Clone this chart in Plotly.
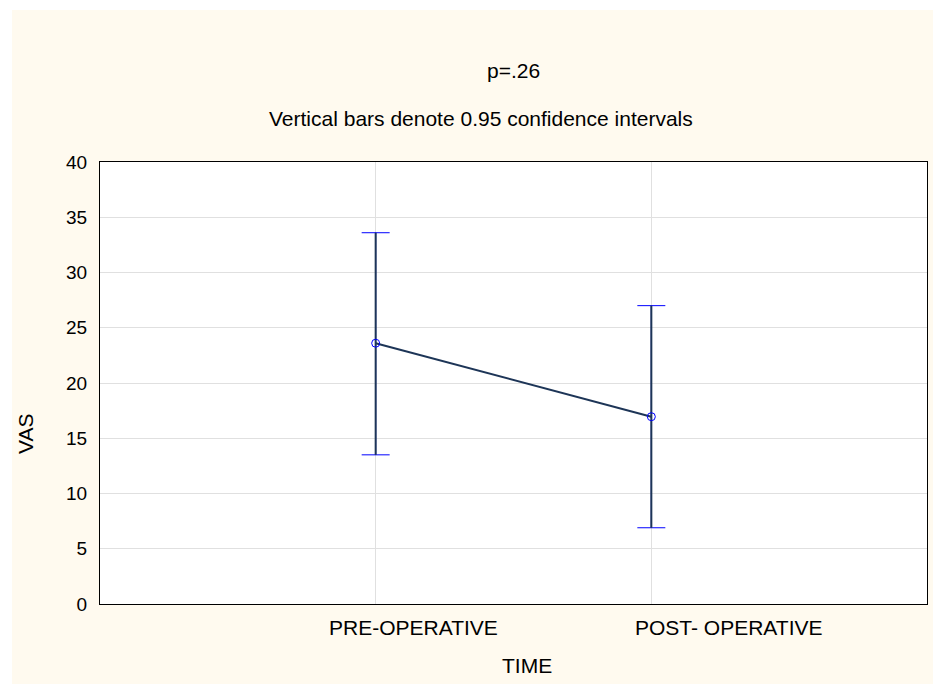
import plotly.graph_objects as go

categories = ["PRE-OPERATIVE", "POST- OPERATIVE"]
means = [23.6, 16.95]
ci_upper = [33.6, 27.0]
ci_lower = [13.5, 6.9]
y_ticks = [0, 5, 10, 15, 20, 25, 30, 35, 40]

xs = list(range(len(categories)))
err_plus = [u - m for u, m in zip(ci_upper, means)]
err_minus = [m - l for m, l in zip(means, ci_lower)]

FONT = "Liberation Sans, Arial, sans-serif"
NAVY = "#1d3557"
BLUE = "#0000ff"
TS = 21

fig = go.Figure()
# caps (blue)
fig.add_trace(go.Scatter(
    x=xs, y=means, mode="markers", marker=dict(size=0.1, color="rgba(0,0,0,0)"),
    error_y=dict(type="data", symmetric=False, array=err_plus, arrayminus=err_minus,
                 color=BLUE, thickness=1, width=14),
    hoverinfo="skip", showlegend=False))
# stems (navy)
fig.add_trace(go.Scatter(
    x=xs, y=means, mode="markers", marker=dict(size=0.1, color="rgba(0,0,0,0)"),
    error_y=dict(type="data", symmetric=False, array=err_plus, arrayminus=err_minus,
                 color=NAVY, thickness=2, width=0),
    hoverinfo="skip", showlegend=False))
# mean line + markers
fig.add_trace(go.Scatter(
    x=xs, y=means, mode="lines+markers",
    line=dict(color=NAVY, width=2),
    marker=dict(symbol="circle-open", size=8, color=BLUE, line=dict(width=1, color=BLUE)),
    showlegend=False))

annotations = [
    dict(text="p=.26", xref="paper", yref="paper", x=(513 - 100) / 827, y=(604 - 70) / 442,
         showarrow=False, font=dict(size=TS, color="black", family=FONT), xanchor="center", yanchor="middle"),
    dict(text="Vertical bars denote 0.95 confidence intervals", xref="paper", yref="paper",
         x=(267 - 100) / 827, y=(604 - 119) / 442, showarrow=False,
         font=dict(size=TS, color="black", family=FONT), xanchor="left", yanchor="middle"),
    dict(text="TIME", xref="paper", yref="paper", x=(500 - 100) / 827, y=(604 - 665) / 442,
         showarrow=False, font=dict(size=TS, color="black", family=FONT), xanchor="left", yanchor="middle"),
    dict(text="VAS", xref="paper", yref="paper", x=(25 - 100) / 827, y=(604 - 434) / 442,
         showarrow=False, textangle=-90, font=dict(size=TS, color="black", family=FONT),
         xanchor="center", yanchor="middle"),
]
label_shift = [-49, -18]
for i, c in enumerate(categories):
    annotations.append(dict(text=c, xref="x", yref="paper", x=xs[i], y=(604 - 627) / 442,
                            xshift=label_shift[i], showarrow=False, xanchor="left", yanchor="middle",
                            font=dict(size=TS, color="black", family=FONT)))

fig.update_layout(
    width=933, height=684,
    margin=dict(l=100, r=6, t=162, b=80),
    paper_bgcolor="#fffaef",
    plot_bgcolor="white",
    font=dict(family=FONT, size=19, color="black"),
    annotations=annotations,
    shapes=[
        dict(type="rect", xref="paper", yref="paper", x0=-0.2, x1=1.2,
             y0=(604 - 10) / 442, y1=1.5, fillcolor="white", line=dict(width=0), layer="below"),
        dict(type="rect", xref="paper", yref="paper", x0=-0.2, x1=(12 - 100) / 827,
             y0=-0.5, y1=1.5, fillcolor="white", line=dict(width=0), layer="below"),
    ],
)
fig.update_xaxes(range=[-1, 2], tickvals=xs, ticktext=["", ""], showgrid=True,
                 gridcolor="#e0e0e0", gridwidth=1, showline=True, linecolor="black",
                 linewidth=1, mirror=True, ticks="", zeroline=False, fixedrange=True)
fig.update_yaxes(range=[0, 40], tickvals=y_ticks, showgrid=True, gridcolor="#e0e0e0",
                 gridwidth=1, showline=True, linecolor="black", linewidth=1, mirror=True,
                 ticks="", ticklabelstandoff=8, zeroline=False,
                 tickfont=dict(size=19, family=FONT, color="black"))

fig.write_html("out.html")
